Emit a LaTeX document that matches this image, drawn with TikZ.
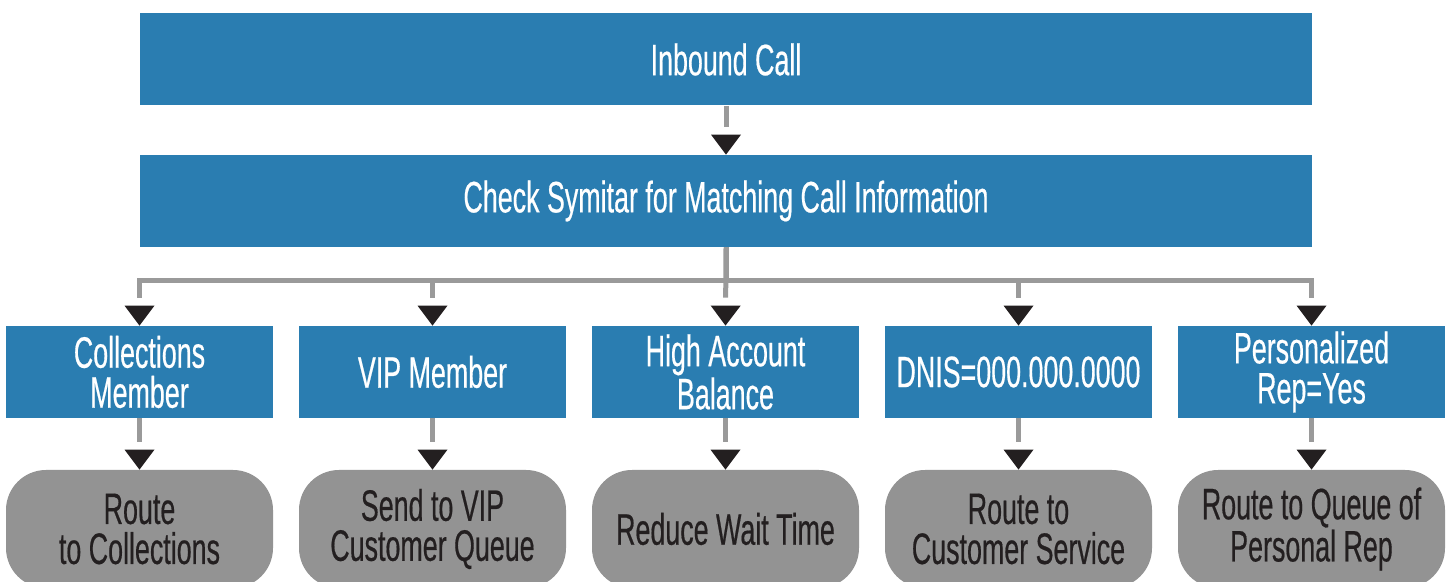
\documentclass[tikz,border=0pt]{standalone}
\usepackage{fontspec}
\setmainfont{Liberation Sans}[FakeStretch=0.61,FakeBold=0.4]
\usetikzlibrary{decorations.markings}
\definecolor{boxblue}{HTML}{2A7DB1}
\definecolor{outgray}{HTML}{939393}
\definecolor{linegray}{HTML}{9A9A9A}
\definecolor{tipblack}{HTML}{231F20}
\definecolor{textdark}{HTML}{231F20}
\begin{document}
\begin{tikzpicture}[x=0.5pt,y=-0.5pt,
  font=\fontsize{22}{20}\selectfont,
  bluebox/.style={rectangle, fill=boxblue, text=white, align=center, inner sep=0pt, minimum height=46pt},
  topbox/.style={bluebox, minimum width=586pt},
  catbox/.style={bluebox, minimum width=133.5pt},
  outbox/.style={rectangle, rounded corners=20pt, fill=outgray, text=textdark, align=center, inner sep=0pt, minimum width=133.5pt, minimum height=59pt},
  conn/.style={draw=linegray, line width=2.5pt, shorten >=14pt,
    postaction={decorate, decoration={markings, mark=at position 1 with {\fill[tipblack, shorten >=0pt] (0pt,0pt) -- (-10pt,7.5pt) -- (-10pt,-7.5pt) -- cycle;}}}}]
\useasboundingbox (0,0) rectangle (1451,582);
\node[topbox] (inbound) at (726,59.5) {Inbound Call};
\node[topbox] (check) at (726,201) {Check Symitar for Matching Call Information};
\coordinate (bar) at (726,281);
\node[catbox] (coll) at (139.5,372) {Collections\\Member};
\node[catbox] (vip) at (432.5,372) {VIP Member};
\node[catbox] (high) at (725.5,372) {High Account\\Balance};
\node[catbox] (dnis) at (1018.5,372) {DNIS=000.000.0000};
\node[catbox] (pers) at (1311.5,372) {Personalized\\Rep=Yes};
\node[outbox] (rcoll) at (139.5,529) {Route\\to Collections};
\node[outbox] (rvip) at (432.5,529) {Send to VIP\\Customer Queue};
\node[outbox] (rhigh) at (725.5,529) {Reduce Wait Time};
\node[outbox] (rdnis) at (1018.5,529) {Route to\\Customer Service};
\node[outbox] (rpers) at (1311.5,529) {Route to Queue of\\Personal Rep};
\draw[conn] (inbound.south) -- (check.north);
\draw[conn] (check.south) -- (bar) -| (coll.north);
\draw[conn] (check.south) -- (bar) -| (vip.north);
\draw[conn] (check.south) -- (high.north);
\draw[conn] (check.south) -- (bar) -| (dnis.north);
\draw[conn] (check.south) -- (bar) -| (pers.north);
\draw[conn] (coll.south) -- (rcoll.north);
\draw[conn] (vip.south) -- (rvip.north);
\draw[conn] (high.south) -- (rhigh.north);
\draw[conn] (dnis.south) -- (rdnis.north);
\draw[conn] (pers.south) -- (rpers.north);
\end{tikzpicture}
\end{document}
